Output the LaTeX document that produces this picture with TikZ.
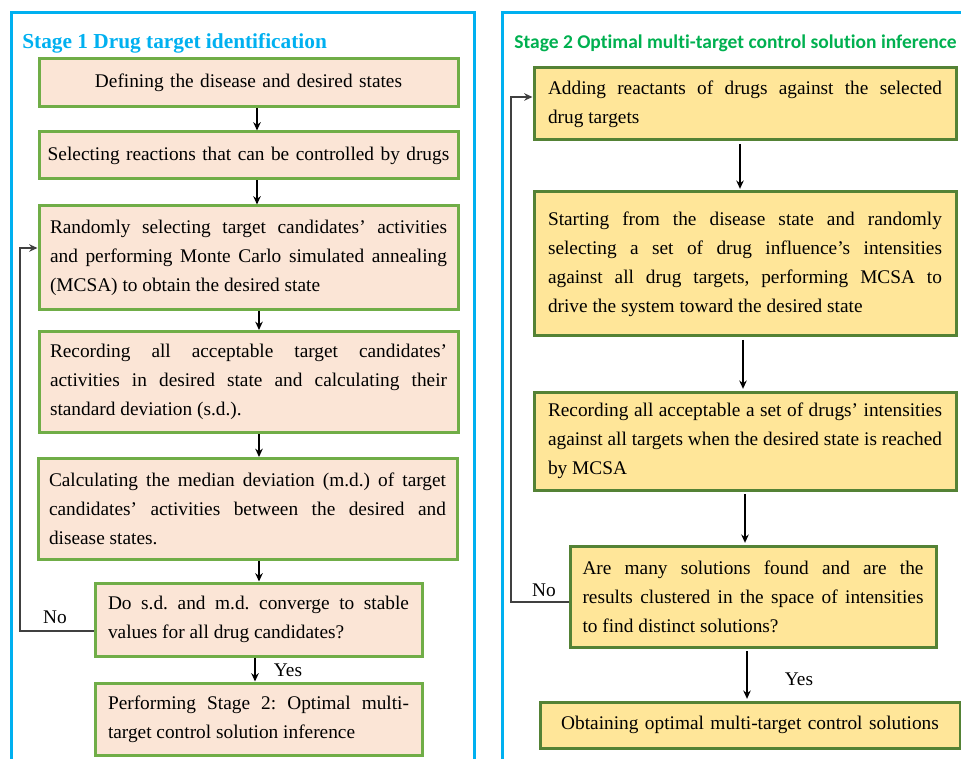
\documentclass[tikz,border=0pt]{standalone}
\usepackage{fontspec}
\setmainfont{Liberation Serif}
\newfontfamily\calibri[Ligatures=NoCommon]{Carlito}
\usetikzlibrary{arrows.meta}
\definecolor{frameblue}{RGB}{0,176,240}
\definecolor{hdgreen}{RGB}{0,176,80}
\definecolor{lborder}{RGB}{112,173,71}
\definecolor{lfill}{RGB}{251,229,214}
\definecolor{rborder}{RGB}{84,130,53}
\definecolor{rfill}{RGB}{255,230,153}
\hyphenpenalty=10000
\tolerance=9999
\frenchspacing
\begin{document}
\begin{tikzpicture}[x=0.6pt,y=-0.6pt,
  every node/.style={font=\fontsize{11.6}{17.4}\selectfont},
  lbox/.style={draw=lborder,fill=lfill,line width=1.8pt,inner ysep=0pt,inner xsep=6.6pt,text width=238.2pt,align=justify},
  rbox/.style={draw=rborder,fill=rfill,line width=1.8pt,inner ysep=0pt,inner xsep=8.4pt,text width=236.4pt,align=justify},
  wide/.style={align=center,text width=247.4pt,inner xsep=2pt},
  arr/.style={-{Stealth[length=5pt,width=4.5pt]},line width=0.8pt},
  backline/.style={-{Stealth[length=5pt,width=4.5pt]},line width=0.8pt,draw=black!75},
  frame/.style={draw=frameblue,line width=1.8pt,line join=miter},
  lbl/.style={inner sep=0pt}
]
\useasboundingbox (0,0) rectangle (961,759);

% frames
\draw[frame] (11,759) -- (11,13) -- (474,13) -- (474,759);
\draw[frame] (502,759) -- (502,13) -- (961,13);

% headers
\node[lbl,anchor=west,text=frameblue,font=\bfseries\fontsize{12.8}{15}\selectfont] (h1) at (22,43) {Stage 1 Drug target identification};
\node[lbl,anchor=west,text=hdgreen,font=\calibri\bfseries\fontsize{11.7}{14}\selectfont] (h2) at (514,43) {Stage 2 Optimal multi-target control solution inference};

% left column
\node[lbox,wide,minimum height=28.8pt] (b1) at (248.5,83) {Defining the disease and desired states};
\node[lbox,wide,minimum height=28.2pt] (b2) at (248.5,155.5) {Selecting reactions that can be controlled by drugs};
\node[lbox,minimum height=62.4pt] (b3) at (248.5,258) {Randomly selecting target candidates' activities\linebreak and performing Monte Carlo simulated annealing\linebreak (MCSA) to obtain the desired state};
\node[lbox,minimum height=60.6pt] (b4) at (248.5,382) {Recording all acceptable target candidates'\linebreak activities in desired state and calculating their\linebreak standard deviation (s.d.).};
\node[lbox,minimum height=60.6pt] (b5) at (247.5,509) {Calculating the median deviation (m.d.) of target\linebreak candidates' activities between the desired and\linebreak disease states.};
\node[lbox,text width=180.6pt,inner xsep=7.8pt,minimum height=43.8pt] (b6) at (258.5,619.5) {Do s.d. and m.d. converge to stable\linebreak values for all drug candidates?};
\node[lbox,text width=180.6pt,inner xsep=7.8pt,minimum height=43.2pt] (b7) at (258.5,719) {Performing Stage 2: Optimal multi-\linebreak target control solution inference};

% right column
\node[rbox,minimum height=43.2pt] (r1) at (745,104) {Adding reactants of drugs against the selected\linebreak drug targets};
\node[rbox,minimum height=86.4pt] (r2) at (745,264) {Starting from the disease state and randomly\linebreak selecting a set of drug influence's intensities\linebreak against all drug targets, performing MCSA to\linebreak drive the system toward the desired state};
\node[rbox,minimum height=58.8pt] (r3) at (745,441) {Recording all acceptable a set of drugs' intensities\linebreak against all targets when the desired state is reached\linebreak by MCSA};
\node[rbox,text width=204.6pt,inner xsep=7.5pt,minimum height=60.6pt] (r4) at (753,596.5) {Are many solutions found and are the\linebreak results clustered in the space of intensities\linebreak to find distinct solutions?};
\node[rbox,align=center,inner xsep=7.8pt,minimum height=27.6pt] (r5) at (750,725) {Obtaining optimal multi-target control solutions};

% arrow x positions
\coordinate (xa) at (257,0);
\coordinate (xb) at (259,0);
\coordinate (xc) at (255,0);
\coordinate (xr1) at (740,0);
\coordinate (xr2) at (743,0);
\coordinate (xr3) at (745,0);
\coordinate (xr4) at (747,0);

\draw[arr] (b1.south -| xa) -- (b2.north -| xa);
\draw[arr] (b2.south -| xa) -- (b3.north -| xa);
\draw[arr] (b3.south -| xb) -- (b4.north -| xb);
\draw[arr] (b4.south -| xb) -- (b5.north -| xb);
\draw[arr] (b5.south -| xb) -- (b6.north -| xb);
\draw[arr] (b6.south -| xc) -- (b7.north -| xc);

\draw[arr] ([yshift=-1.5pt]r1.south -| xr1) -- ([yshift=1pt]r2.north -| xr1);
\draw[arr] ([yshift=-1.5pt]r2.south -| xr2) -- ([yshift=1pt]r3.north -| xr2);
\draw[arr] ([yshift=-1.5pt]r3.south -| xr3) -- ([yshift=1pt]r4.north -| xr3);
\draw[arr] ([yshift=-1.5pt]r4.south -| xr4) -- ([yshift=1pt]r5.north -| xr4);

% feedback loops
\coordinate (lx) at (20,0);
\coordinate (ly1) at (0,631);
\coordinate (ly2) at (0,248);
\draw[backline] (b6.west |- ly1) -- (lx |- ly1) -- (lx |- ly2) -- (b3.west |- ly2);

\coordinate (rx) at (511,0);
\coordinate (ry1) at (0,602);
\coordinate (ry2) at (0,97);
\draw[backline] (r4.west |- ry1) -- (rx |- ry1) -- (rx |- ry2) -- (r1.west |- ry2);

% labels
\node[lbl] (no1) at (55,617) {No};
\node[lbl] (yes1) at (288,670) {Yes};
\node[lbl] (no2) at (544,590) {No};
\node[lbl] (yes2) at (799,679) {Yes};
\end{tikzpicture}
\end{document}
